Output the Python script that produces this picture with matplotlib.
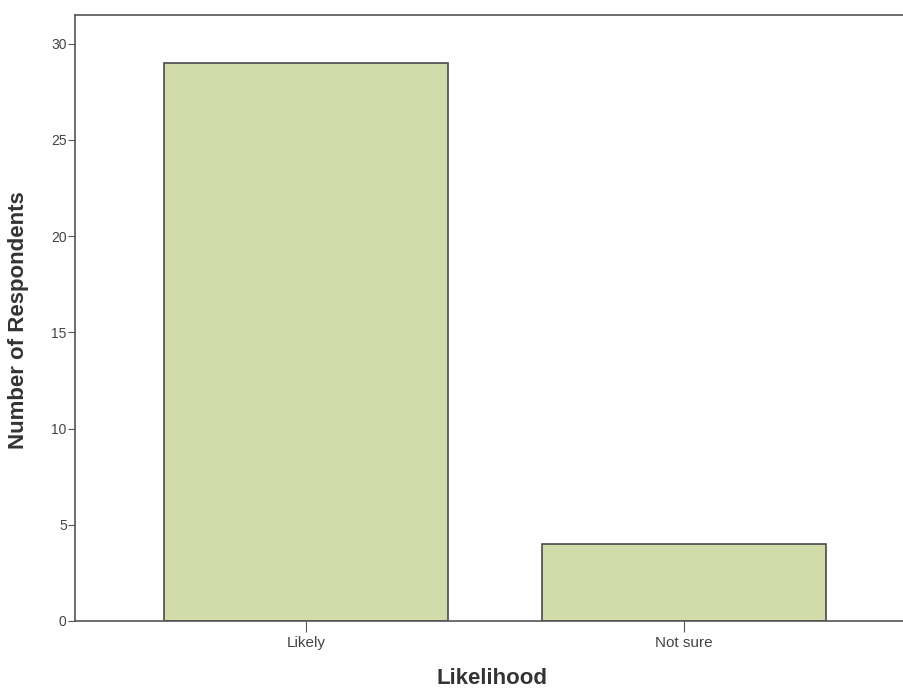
import numpy as np
import matplotlib.pyplot as plt

plt.rcParams['font.family'] = ['Liberation Sans', 'DejaVu Sans']

categories = ['Likely', 'Not sure']
counts = [29, 4]

fig = plt.figure(figsize=(9.04, 6.88), dpi=100)
ax = fig.add_axes([0.083, 0.0974, 0.929, 0.881])

x = np.arange(len(categories))
ax.bar(x, counts, width=0.75, color='#d2dcaa', edgecolor='#4a4a4a', linewidth=1.2)

ax.set_xlim(-0.61, 1.61)
ax.set_ylim(0, 31.5)
ax.set_yticks([0, 5, 10, 15, 20, 25, 30])
ax.set_xticks(x)
ax.set_xticklabels(categories)

for s in ['left', 'top', 'bottom']:
    ax.spines[s].set_color('#555555')
    ax.spines[s].set_linewidth(1.2)
ax.spines['right'].set_visible(False)

ax.tick_params(axis='y', direction='out', length=5, colors='#555555', labelsize=10, pad=1)
ax.tick_params(axis='x', direction='out', length=8, colors='#555555', labelsize=11, pad=3)
for lbl in ax.get_xticklabels() + ax.get_yticklabels():
    lbl.set_color('#444444')

ax.set_xlabel('Likelihood', fontsize=16, fontweight='bold', color='#333333')
ax.set_ylabel('Number of Respondents', fontsize=16, fontweight='bold', color='#333333')
ax.xaxis.set_label_coords(0.497, -0.078)
ax.yaxis.set_label_coords(-0.055, 0.496)

fig.savefig('out.png', dpi=100)
